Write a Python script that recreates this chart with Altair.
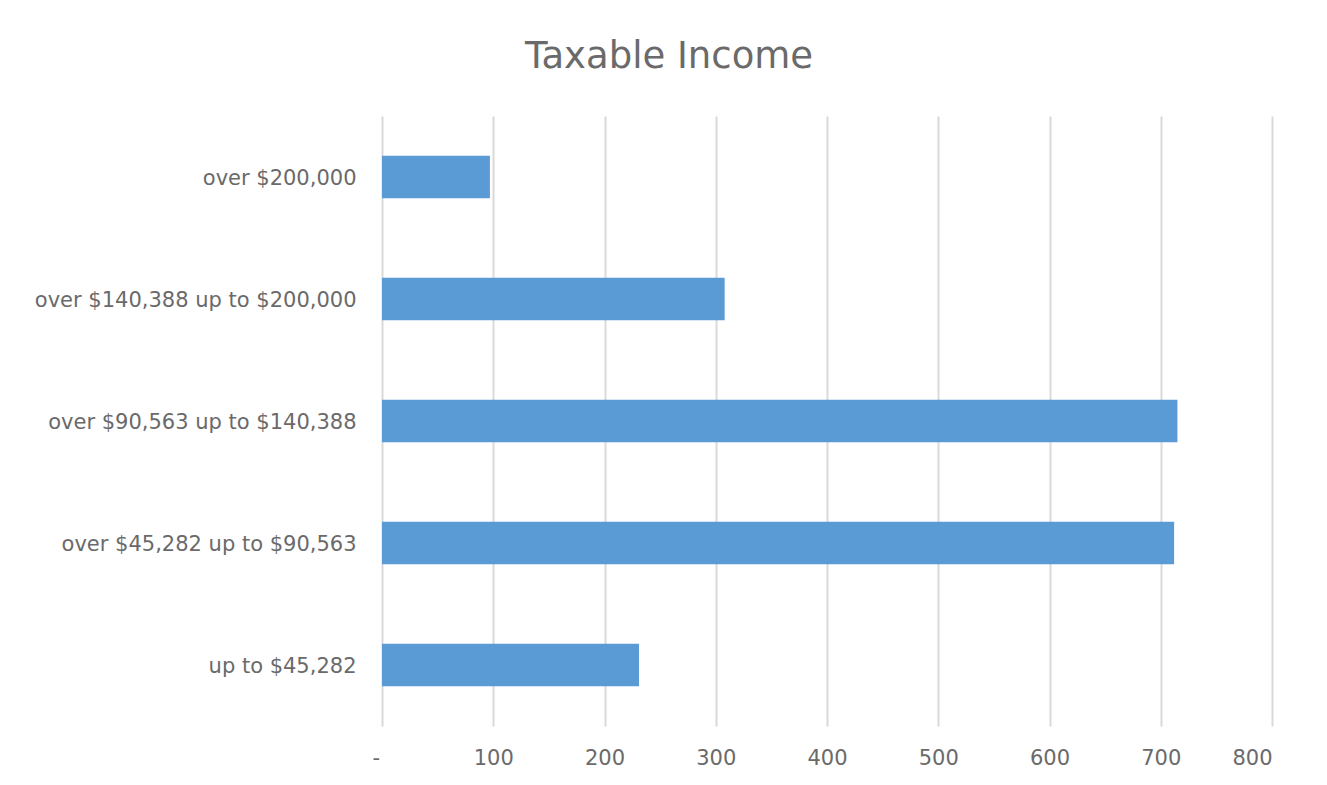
import altair as alt
import pandas as pd

categories = [
    "over $200,000",
    "over $140,388 up to $200,000",
    "over $90,563 up to $140,388",
    "over $45,282 up to $90,563",
    "up to $45,282",
]
values = [97, 308, 715, 712, 231]
x_ticks = [0, 100, 200, 300, 400, 500, 600, 700, 800]

df = pd.DataFrame({"bracket": categories, "count": values})

FONT = "DejaVu Sans"
GREY = "#6a6a6a"

chart = (
    alt.Chart(df)
    .mark_bar(color="#5b9bd5")
    .encode(
        x=alt.X(
            "count:Q",
            scale=alt.Scale(domain=[0, 800], nice=False),
            axis=alt.Axis(
                values=x_ticks,
                title=None,
                grid=True,
                gridColor="#d9d9d9",
                gridWidth=2,
                domain=False,
                ticks=False,
                labelPadding=21,
                labelFontSize=21,
                labelColor=GREY,
                labelFont=FONT,
                labelOffset={"condition": {"test": "datum.value == 0", "value": -10}, "value": 0},
                labelExpr="datum.value == 0 ? '-' : datum.label",
            ),
        ),
        y=alt.Y(
            "bracket:N",
            sort=categories,
            scale=alt.Scale(paddingInner=0.65, paddingOuter=0.325),
            axis=alt.Axis(
                title=None,
                domain=False,
                ticks=False,
                grid=False,
                labelPadding=26,
                labelFontSize=21,
                labelColor=GREY,
                labelFont=FONT,
                labelLimit=400,
                labelOffset=2,
            ),
        ),
    )
    .properties(
        width=890,
        height=610,
        title=alt.TitleParams(
            "Taxable Income",
            font=FONT,
            fontSize=37,
            fontWeight="normal",
            color=GREY,
            anchor="middle",
            dx=-158,
            offset=40,
        ),
        padding={"left": 374, "top": 108, "right": 47, "bottom": 51},
        autosize=alt.AutoSizeParams(type="none"),
        background="white",
    )
    .configure_view(stroke=None)
)

chart.save("out.html", embed_options={"renderer": "svg", "actions": False})
